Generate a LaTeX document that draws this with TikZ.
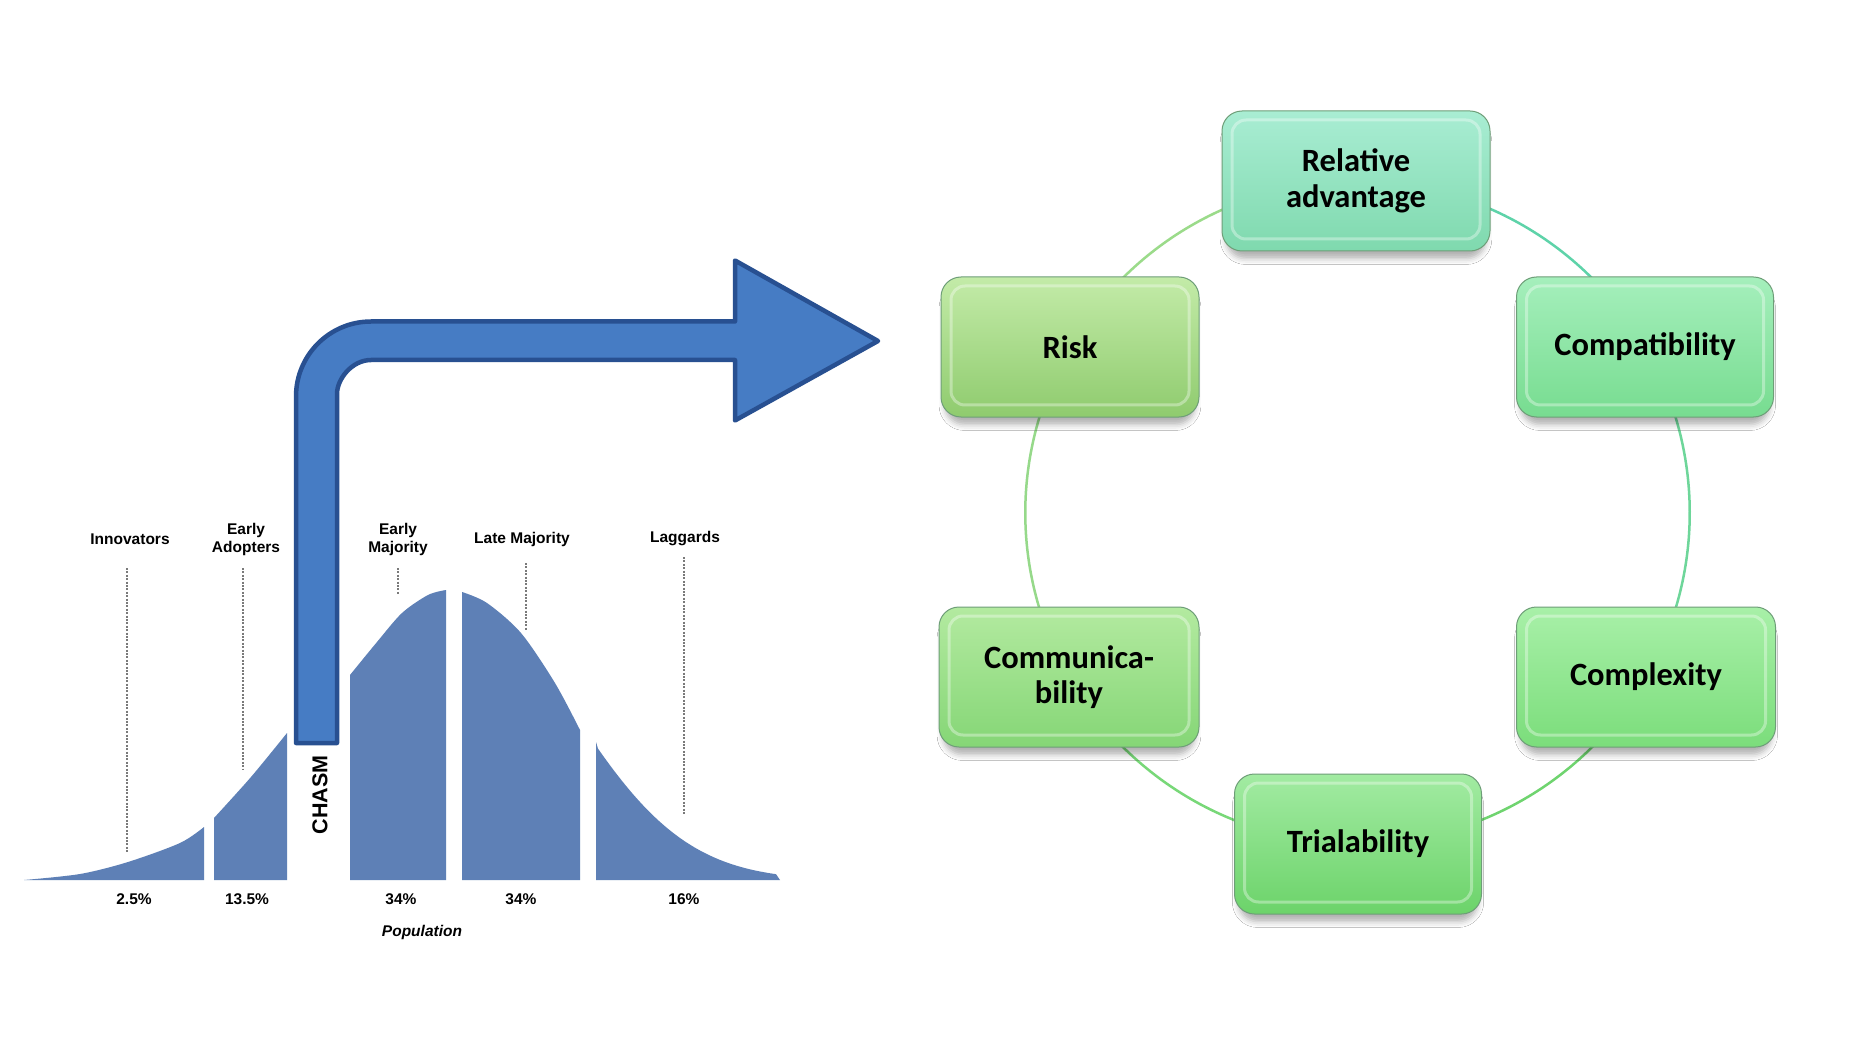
\documentclass[tikz,border=0pt]{standalone}
\usepackage{fontspec}
\newfontfamily\boxfont{Carlito}
\newfontfamily\lblfont{Liberation Sans}
\usetikzlibrary{shadows,shadows.blur,backgrounds}
\definecolor{bell}{HTML}{5E80B6}
\definecolor{arrowfill}{HTML}{467CC4}
\definecolor{arrowline}{HTML}{285091}
\definecolor{dotgray}{HTML}{7A7A7A}
\definecolor{boxedge}{HTML}{6E9E78}
\definecolor{raT}{HTML}{A9EDD3}\definecolor{raB}{HTML}{7FD9AE}
\definecolor{riT}{HTML}{C3EBA8}\definecolor{riB}{HTML}{8FCB6E}
\definecolor{coT}{HTML}{A5EFBC}\definecolor{coB}{HTML}{77DC90}
\definecolor{cmT}{HTML}{B3EAA0}\definecolor{cmB}{HTML}{85D676}
\definecolor{cxT}{HTML}{A8F0A8}\definecolor{cxB}{HTML}{7BDD7B}
\definecolor{trT}{HTML}{A2EBA2}\definecolor{trB}{HTML}{6CD36A}
\definecolor{arcA}{HTML}{5ED3A9}
\definecolor{arcB}{HTML}{6ED69A}
\definecolor{arcC}{HTML}{6FD46F}
\definecolor{arcD}{HTML}{78D878}
\definecolor{arcE}{HTML}{96D98A}
\definecolor{arcF}{HTML}{9BDB8A}
\tikzset{
  lbl/.style={font=\lblfont\bfseries\fontsize{15.5}{18}\selectfont, align=center, inner sep=0pt},
  dotline/.style={dotgray, line width=2.5pt, dash pattern=on 2pt off 1.4pt},
  bellseg/.style={fill=bell},
  bigarrow/.style={fill=arrowfill, draw=arrowline, line width=4.5pt, line join=round},
  gbox/.style={draw=boxedge, line width=1pt, rounded corners=20pt, inner sep=0pt,
    minimum height=140pt, align=center,
    font=\boxfont\bfseries\fontsize{32.5}{35.5}\selectfont,
    blur shadow={shadow xshift=0pt, shadow yshift=-10pt, shadow scale=0.97, shadow blur radius=6pt, shadow opacity=30},
    path picture={\draw[white, opacity=0.35, line width=3pt, rounded corners=14pt]
      ([xshift=10pt,yshift=-9pt]path picture bounding box.north west) rectangle
      ([xshift=-10pt,yshift=12pt]path picture bounding box.south east);}},
  ring/.style={line width=2.5pt, bend left=30, looseness=0.913}
}
\begin{document}
\begin{tikzpicture}[x=1pt, y=-1pt]
\path[use as bounding box] (0,0) rectangle (1866,1056);

% ---------- bell curve segments ----------
\fill[bellseg] (24,880) -- plot[smooth] coordinates {(24,880) (80,874) (128,862) (180,843) (204,827)} -- (204,880) -- cycle;
\fill[bellseg] (214,880) -- plot[smooth] coordinates {(214,818) (251,777) (287,733)} -- (287,880) -- cycle;
\fill[bellseg] (350,880) -- plot[smooth] coordinates {(350,675) (377,642) (402,613) (428,595) (446,590)} -- (446,880) -- cycle;
\fill[bellseg] (462,880) -- plot[smooth] coordinates {(462,592) (487,603) (521,633) (555,683) (580,730)} -- (580,880) -- cycle;
\fill[bellseg] (596,880) -- (596,742)
  -- plot[domain=598:776, samples=60] (\x, {880-290*exp(-0.5*((\x-452)/116)^2)})
  -- (780,880) -- cycle;

% ---------- dotted guide lines ----------
\draw[dotline] (127,568) -- (127,853);
\draw[dotline] (243,568) -- (243,769);
\draw[dotline] (398,568) -- (398,595);
\draw[dotline] (526,563) -- (526,630);
\draw[dotline] (684,557) -- (684,815);

% ---------- labels ----------
\node[lbl] (innov) at (130,539) {Innovators};
\node[lbl] (eadopt) at (246,539) {Early\\Adopters};
\node[lbl] (emaj) at (398,539) {Early\\Majority};
\node[lbl] (lmaj) at (522,539) {Late Majority};
\node[lbl] (lagg) at (685,539) {Laggards};
\node[lbl] (p1) at (134,899) {2.5\%};
\node[lbl] (p2) at (247,899) {13.5\%};
\node[lbl] (p3) at (401,899) {34\%};
\node[lbl] (p4) at (521,899) {34\%};
\node[lbl] (p5) at (684,899) {16\%};
\node[lbl, font=\lblfont\bfseries\itshape\fontsize{15.5}{18}\selectfont] (pop) at (422,932) {Population};

% ---------- bent arrow ----------
\draw[bigarrow] (296,743) -- (296,396.5)
  .. controls (296,355.1) and (329.6,321.5) .. (371,321.5)
  -- (735,321.5) -- (735,260.5) -- (878,341) -- (735,420.5) -- (735,360)
  -- (371,360) .. controls (352.2,360) and (337,378.8) .. (337,394)
  -- (337,743) -- cycle;
\node[lbl, font=\lblfont\bfseries\fontsize{21.5}{24}\selectfont, rotate=90] (chasm) at (320,795) {CHASM};

% ---------- attribute boxes ----------
\node[gbox, minimum width=268pt, top color=raT, bottom color=raB] (ra) at (1356,181) {Relative\\advantage};
\node[gbox, minimum width=258pt, top color=riT, bottom color=riB] (risk) at (1070,347) {Risk};
\node[gbox, minimum width=257pt, top color=coT, bottom color=coB] (compat) at (1645,347) {Compatibility};
\node[gbox, minimum width=260pt, top color=cmT, bottom color=cmB] (comm) at (1069,677) {Communica-\\bility};
\node[gbox, minimum width=259pt, top color=cxT, bottom color=cxB] (complex) at (1646,677) {Complexity};
\node[gbox, minimum width=247pt, top color=trT, bottom color=trB] (trial) at (1358,844) {Trialability};

\begin{pgfonlayer}{background}
\fill[white] (0,0) rectangle (1866,1056);
\draw[ring, arcA] (ra.center) to (compat.center);
\draw[ring, arcB] (compat.center) to (complex.center);
\draw[ring, arcC] (complex.center) to (trial.center);
\draw[ring, arcD] (trial.center) to (comm.center);
\draw[ring, arcE] (comm.center) to (risk.center);
\draw[ring, arcF] (risk.center) to (ra.center);
\end{pgfonlayer}
\end{tikzpicture}
\end{document}
